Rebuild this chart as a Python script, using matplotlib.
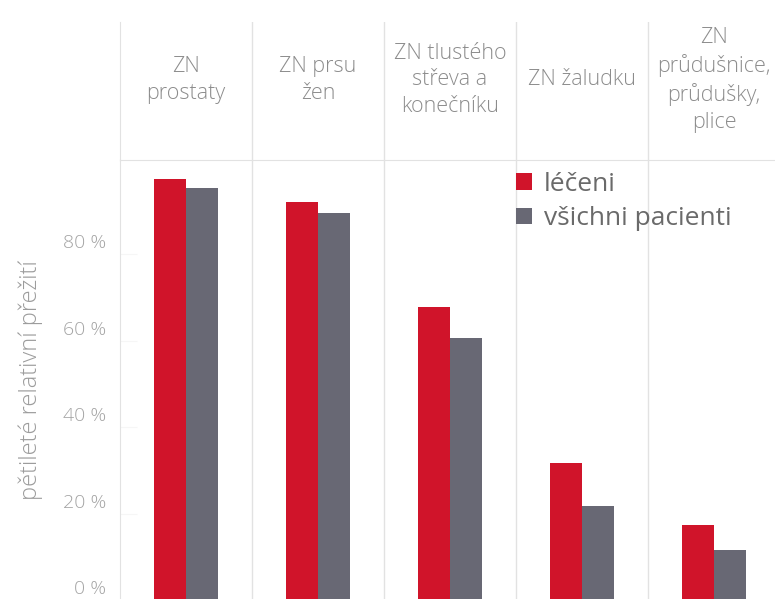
import matplotlib
matplotlib.use("Agg")
import matplotlib.pyplot as plt
import matplotlib.transforms as mtransforms
import numpy as np

categories = [
    "ZN\nprostaty",
    "ZN prsu\nžen",
    "ZN tlustého\nstřeva a\nkonečníku",
    "ZN žaludku",
    "ZN\nprůdušnice,\nprůdušky,\nplice",
]
treated = [97.3, 92.0, 67.7, 31.7, 17.3]
all_patients = [95.3, 89.5, 60.6, 21.7, 11.6]
series_names = ["léčeni", "všichni pacienti"]
y_ticks = [0, 20, 40, 60, 80]
y_label = "pětileté relativní přežití"

RED = "#d0142a"
GRAY = "#686874"
LINE = "#e2e2e2"

plt.rcParams["font.family"] = ["Open Sans", "DejaVu Sans"]

W, H = 775, 599
fig = plt.figure(figsize=(W / 100, H / 100), dpi=100)


def px_box(x0, y0, x1, y1):
    # pixel box (top-left origin) -> figure fraction rect
    return [x0 / W, (H - y1) / H, (x1 - x0) / W, (y1 - y0) / H]


ax = fig.add_axes(px_box(120, 160, 780, 600))
head = fig.add_axes(px_box(120, 22, 780, 160))

x = np.arange(len(categories))
bw = 0.245
ax.bar(x - bw / 2, treated, bw, color=RED, label=series_names[0], zorder=3)
ax.bar(x + bw / 2, all_patients, bw, color=GRAY, label=series_names[1], zorder=3)

ax.set_xlim(-0.5, len(categories) - 0.5)
ax.set_ylim(0, 440 / 4.325)
for xc in x[:-1] + 0.5:
    ax.axvline(xc, color=LINE, lw=1, zorder=1)
    head.axvline(xc, color=LINE, lw=1, zorder=1)

for side in ["right", "bottom"]:
    ax.spines[side].set_visible(False)
for side in ["left", "top"]:
    ax.spines[side].set_color(LINE)
ax.set_xticks([])
ax.set_yticks(y_ticks)
ax.set_yticklabels([f"{v} %" for v in y_ticks])
ax.tick_params(axis="y", direction="in", length=12, color="#f6f6f6",
               labelsize=14, labelcolor="#a4a4a4", pad=10)
offset = mtransforms.ScaledTranslation(0, 13 / 100, fig.dpi_scale_trans)
for lbl in ax.get_yticklabels():
    lbl.set_transform(lbl.get_transform() + offset)
    lbl.set_fontweight("light")

fig.text(31 / W, 1 - 380 / H, y_label, rotation=90, ha="center", va="center",
         fontsize=17, color="#9c9c9c", fontweight="light")

head.set_xlim(-0.5, len(categories) - 0.5)
head.set_ylim(0, 1)
head.set_xticks([])
head.set_yticks([])
for side in ["right", "bottom", "top"]:
    head.spines[side].set_visible(False)
head.spines["left"].set_color(LINE)
head.patch.set_alpha(0)
for i, name in enumerate(categories):
    head.text(i, 0.58, name, ha="center", va="center", fontsize=15.5,
              color="#8c8c8c", fontweight="light", linespacing=1.35)

ax.legend(loc="upper left", bbox_to_anchor=(516 / W, 1 - 172 / H),
          bbox_transform=fig.transFigure, frameon=False, fontsize=19,
          labelcolor="#6a6a6a", handlelength=0.6, handleheight=0.6,
          handletextpad=0.45, labelspacing=0.35, borderpad=0, borderaxespad=0)

fig.savefig("out.png", dpi=100)
